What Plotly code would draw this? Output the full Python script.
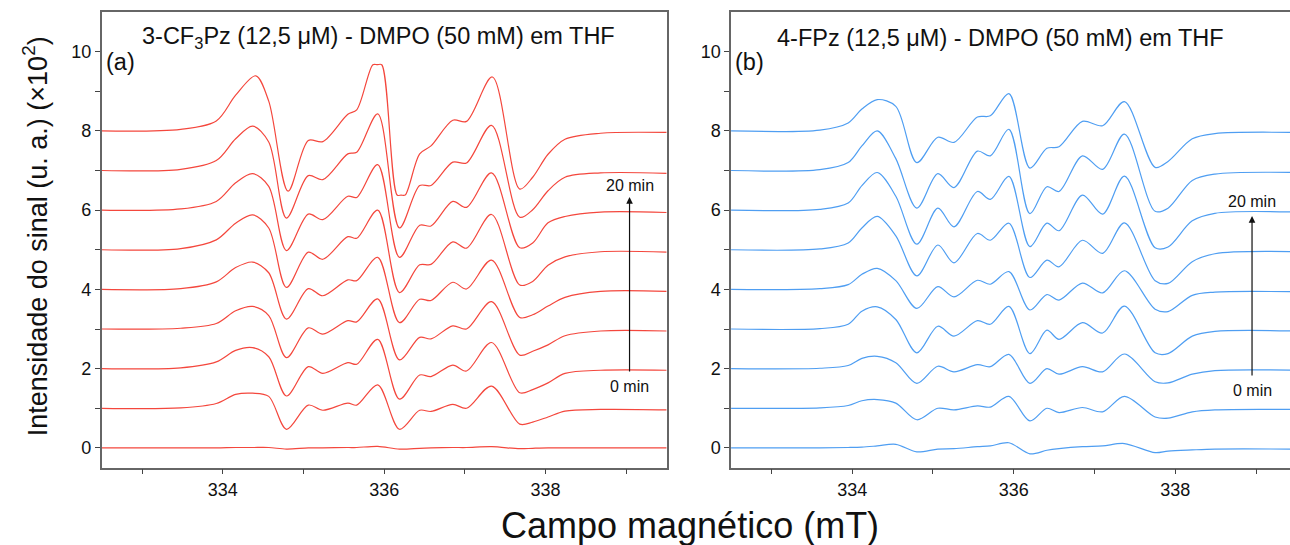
import plotly.graph_objects as go

# ---------------- data ----------------
# Panel (a): 3-CF3Pz ; key field positions (mT)
xa = [332.50, 333.48, 333.92, 334.16, 334.37, 334.57, 334.79, 335.06, 335.24, 335.55,
      335.66, 335.92, 336.19, 336.44, 336.58, 336.85, 337.02, 337.33, 337.68, 337.84,
      338.03, 338.24, 338.68, 339.50]
a0 = [0, 0, 0, 0.01, 0.01, 0.01, -0.03, 0, 0, 0.01, 0.01, 0.04, -0.03, -0.01, 0, 0.01, 0.01, 0.03, -0.02, -0.01, 0, 0, 0, 0]
a1 = [0, 0.01, 0.12, 0.35, 0.38, 0.30, -0.53, 0.08, -0.05, 0.13, 0.08, 0.59, -0.53, -0.05, -0.08, 0.10, 0.0, 0.56, -0.40, -0.35, -0.22, -0.07, -0.03, -0.04]
a2 = [0, 0.02, 0.17, 0.46, 0.53, 0.30, -0.69, 0.05, -0.12, 0.15, 0.11, 0.74, -0.77, -0.16, -0.20, 0.09, -0.06, 0.66, -0.61, -0.53, -0.36, -0.12, -0.04, -0.04]
a3 = [0, 0.02, 0.14, 0.46, 0.57, 0.34, -0.72, 0.03, -0.13, 0.21, 0.18, 0.76, -0.78, -0.21, -0.25, 0.08, 0.0, 0.69, -0.66, -0.56, -0.40, -0.17, -0.05, -0.05]
a4 = [0, 0.02, 0.19, 0.55, 0.69, 0.42, -0.75, 0.02, -0.16, 0.24, 0.22, 0.81, -0.84, -0.25, -0.28, 0.18, 0.01, 0.74, -0.71, -0.64, -0.42, -0.20, -0.05, -0.05]
a5 = [0, 0.03, 0.25, 0.67, 0.88, 0.55, -0.95, -0.06, -0.24, 0.33, 0.29, 1.00, -1.08, -0.38, -0.37, 0.20, 0.04, 0.89, -0.89, -0.80, -0.39, -0.18, -0.05, -0.06]
a6 = [0, 0.03, 0.22, 0.69, 0.92, 0.60, -1.02, -0.10, -0.24, 0.35, 0.32, 1.15, -1.19, -0.38, -0.40, 0.22, 0.07, 0.94, -0.95, -0.83, -0.32, -0.16, -0.05, -0.06]
a7 = [0, 0.03, 0.25, 0.80, 1.12, 0.72, -1.20, -0.13, -0.23, 0.42, 0.46, 1.43, -1.45, -0.38, -0.38, 0.21, 0.19, 1.14, -1.18, -0.99, -0.51, -0.17, -0.06, -0.07]
# top (20 min) spectrum of (a) is clipped at the central line (flat top and bottom)
xa8 = [332.50, 333.48, 333.92, 334.16, 334.41, 334.57, 334.81, 335.06, 335.24, 335.55,
       335.66, 335.86, 335.915, 335.97, 336.16, 336.21, 336.26, 336.44, 336.58, 336.85, 337.02, 337.34,
       337.68, 337.84, 338.03, 338.24, 338.68, 339.50]
a8 = [0, 0.04, 0.25, 0.90, 1.39, 0.75, -1.52, -0.24, -0.27, 0.42, 0.53, 1.67, 1.67, 1.67, -1.62, -1.62, -1.62,
      -0.58, -0.38, 0.27, 0.24, 1.36, -1.47, -1.17, -0.59, -0.21, -0.06, -0.04]

# Panel (b): 4-FPz
xb = [332.50, 333.60, 333.95, 334.12, 334.31, 334.54, 334.80, 335.06, 335.26, 335.55,
      335.71, 335.94, 336.20, 336.41, 336.56, 336.85, 337.10, 337.37, 337.75, 337.91,
      338.21, 338.49, 339.50]
b0 = [0, 0, 0.01, 0.02, 0.05, 0.09, -0.10, -0.03, -0.02, 0.03, 0.05, 0.13, -0.15, -0.06, -0.02, 0.03, 0.05, 0.11, -0.12, -0.08, -0.05, -0.03, -0.03]
b1 = [0, 0.01, 0.07, 0.19, 0.22, 0.13, -0.29, 0.0, -0.04, 0.06, 0.03, 0.30, -0.32, 0.0, -0.11, 0.02, -0.09, 0.30, -0.22, -0.25, -0.09, -0.04, -0.03]
b2 = [0, 0.01, 0.08, 0.26, 0.31, 0.15, -0.37, 0.06, -0.08, 0.10, 0.05, 0.36, -0.37, 0.0, -0.14, 0.05, -0.08, 0.37, -0.33, -0.36, -0.14, -0.05, -0.04]
b3 = [0, 0.01, 0.12, 0.45, 0.56, 0.24, -0.60, 0.07, -0.18, 0.21, 0.12, 0.57, -0.62, -0.03, -0.26, 0.16, -0.10, 0.58, -0.60, -0.62, -0.18, -0.06, -0.05]
b4 = [0, 0.02, 0.12, 0.38, 0.53, 0.22, -0.48, 0.07, -0.19, 0.23, 0.13, 0.45, -0.52, -0.13, -0.27, 0.16, -0.09, 0.47, -0.50, -0.56, -0.15, -0.07, -0.06]
b5 = [0, 0.02, 0.17, 0.55, 0.84, 0.35, -0.66, 0.12, -0.33, 0.41, 0.24, 0.67, -0.70, -0.26, -0.43, 0.24, -0.09, 0.68, -0.78, -0.85, -0.30, -0.10, -0.05]
b6 = [0, 0.02, 0.18, 0.62, 0.95, 0.35, -0.86, 0.05, -0.42, 0.47, 0.27, 0.85, -0.92, -0.33, -0.52, 0.38, -0.10, 0.86, -0.95, -0.93, -0.27, -0.08, -0.05]
b7 = [0, 0.02, 0.20, 0.62, 1.00, 0.30, -0.95, -0.08, -0.43, 0.49, 0.37, 1.04, -1.09, -0.41, -0.53, 0.37, 0.03, 0.92, -1.03, -0.95, -0.25, -0.09, -0.05]
b8 = [0, 0.02, 0.20, 0.55, 0.79, 0.62, -0.80, -0.16, -0.29, 0.35, 0.38, 0.94, -0.94, -0.44, -0.40, 0.24, 0.13, 0.74, -0.92, -0.77, -0.20, -0.07, -0.04]

offsets = [0, 1, 2, 3, 4, 5, 6, 7, 8]          # vertical stacking (time 0 -> 20 min)
x_tickvals = [333, 334, 335, 336, 337, 338, 339]
x_ticktext = ["", "334", "", "336", "", "338", ""]
y_tickvals = [0, 1, 2, 3, 4, 5, 6, 7, 8, 9, 10]
y_ticktext = ["0", "", "2", "", "4", "", "6", "", "8", "", "10"]

RED = "#f4473d"
BLUE = "#4f9ef2"
FONT = "Liberation Sans, Arial, sans-serif"

fig = go.Figure()

a_series = [(xa, a0), (xa, a1), (xa, a2), (xa, a3), (xa, a4), (xa, a5), (xa, a6), (xa, a7), (xa8, a8)]
b_series = [(xb, b0), (xb, b1), (xb, b2), (xb, b3), (xb, b4), (xb, b5), (xb, b6), (xb, b7), (xb, b8)]

for off, (xs, ys) in zip(offsets, a_series):
    fig.add_trace(go.Scatter(x=xs, y=[v + off for v in ys], mode="lines",
                             line=dict(color=RED, width=1.2, shape="spline", smoothing=0.9),
                             xaxis="x", yaxis="y", showlegend=False, hoverinfo="skip"))
for off, (xs, ys) in zip(offsets, b_series):
    fig.add_trace(go.Scatter(x=xs, y=[v + off for v in ys], mode="lines",
                             line=dict(color=BLUE, width=1.2, shape="spline", smoothing=0.9),
                             xaxis="x2", yaxis="y2", showlegend=False, hoverinfo="skip"))

axis_common = dict(showgrid=False, zeroline=False, showline=True, linecolor="#666666",
                   linewidth=1.5, ticks="outside", ticklen=5, tickwidth=1.2, tickcolor="#444444",
                   tickfont=dict(family=FONT, size=18, color="#111111"))

ydom = [0.1418, 0.978]
fig.update_layout(
    width=1290, height=545,
    margin=dict(l=0, r=0, t=0, b=0),
    paper_bgcolor="white", plot_bgcolor="white",
    xaxis=dict(domain=[0.0788, 0.5168], range=[332.5, 339.5], tickmode="array",
               tickvals=x_tickvals, ticktext=x_ticktext, mirror=True, anchor="y", **axis_common),
    yaxis=dict(domain=ydom, range=[-0.5, 11.0], tickmode="array", tickvals=y_tickvals,
               ticktext=y_ticktext, mirror=True, anchor="x", **axis_common),
    xaxis2=dict(domain=[0.5667, 1.0], range=[332.5, 339.42], tickmode="array",
                tickvals=x_tickvals, ticktext=x_ticktext, mirror=True, anchor="y2", **axis_common),
    yaxis2=dict(domain=ydom, range=[-0.5, 11.0], tickmode="array", tickvals=y_tickvals,
                ticktext=y_ticktext, mirror=False, anchor="x2", **axis_common),
)

ann = []
txt = dict(family=FONT, size=23.5, color="#111111")
ann.append(dict(x=332.97, y=10.35, xref="x", yref="y", text="3-CF<sub>3</sub>Pz (12,5 μM) - DMPO (50 mM) em THF",
                showarrow=False, xanchor="left", yanchor="middle", font=txt))
ann.append(dict(x=332.53, y=9.74, xref="x", yref="y", text="(a)", showarrow=False,
                xanchor="left", yanchor="middle", font=txt))
ann.append(dict(x=333.05, y=10.35, xref="x2", yref="y2", text="4-FPz (12,5 μM) - DMPO (50 mM) em THF",
                showarrow=False, xanchor="left", yanchor="middle", font=txt))
ann.append(dict(x=332.53, y=9.74, xref="x2", yref="y2", text="(b)", showarrow=False,
                xanchor="left", yanchor="middle", font=txt))

# time arrows
small = dict(family=FONT, size=16, color="#111111")
for xr, yr, xa_, y0, y1, t20, t0 in [("x", "y", 339.04, 1.89, 6.33, 6.63, 1.56),
                                      ("x2", "y2", 338.95, 1.79, 5.85, 6.21, 1.46)]:
    ann.append(dict(x=xa_, y=y1, ax=xa_, ay=y0, xref=xr, yref=yr, axref=xr, ayref=yr,
                    text="", showarrow=True, arrowhead=2, arrowsize=1.1, arrowwidth=1.2,
                    arrowcolor="#111111"))
    ann.append(dict(x=xa_, y=t20, xref=xr, yref=yr, text="20 min", showarrow=False,
                    xanchor="center", yanchor="middle", font=small))
    ann.append(dict(x=xa_, y=t0, xref=xr, yref=yr, text="0 min", showarrow=False,
                    xanchor="center", yanchor="middle", font=small))

ann.append(dict(x=0.535, y=0.036, xref="paper", yref="paper", text="Campo magnético (mT)",
                showarrow=False, xanchor="center", yanchor="middle",
                font=dict(family=FONT, size=36, color="#111111")))
ann.append(dict(x=0.027, y=0.566, xref="paper", yref="paper",
                text="Intensidade do sinal (u. a.) (×10<sup>2</sup>)", textangle=-90,
                showarrow=False, xanchor="center", yanchor="middle",
                font=dict(family=FONT, size=27, color="#111111")))
fig.update_layout(annotations=ann)

fig.write_html("out.html")
